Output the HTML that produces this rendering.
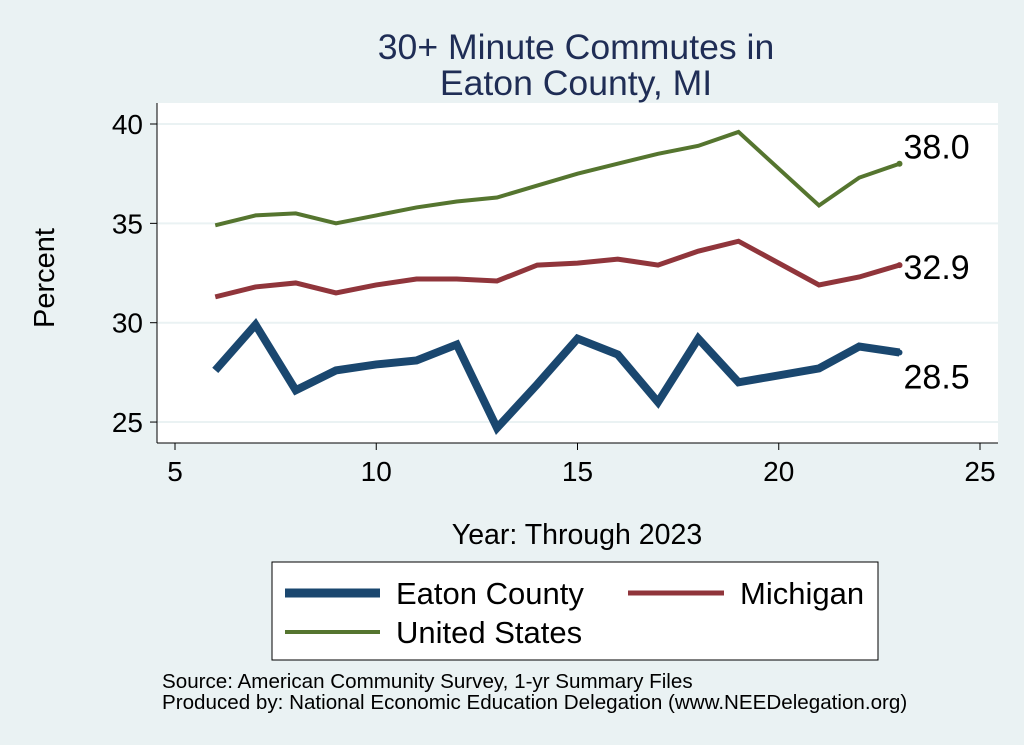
<!DOCTYPE html>
<html><head><meta charset="utf-8"><style>
body{margin:0;background:#eaf2f3;font-family:"Liberation Sans",sans-serif}
svg{display:block}
</style></head><body>
<svg width="1024" height="745">
<rect width="1024" height="745" fill="#eaf2f3"/>
<text x="576" y="59" text-anchor="middle" font-size="35.6" fill="#1f2d55">30+ Minute Commutes in</text>
<text x="576" y="95" text-anchor="middle" font-size="35.6" fill="#1f2d55">Eaton County, MI</text>
<rect x="157" y="103" width="841" height="340" fill="#fff"/>
<g id="grid"></g><g id="axes"></g><g id="series"></g>
<text transform="translate(54,278) rotate(-90)" text-anchor="middle" font-size="29" fill="#000">Percent</text>
<text x="577" y="544" text-anchor="middle" font-size="28.5" fill="#000">Year: Through 2023</text>
<g>
<rect x="272" y="562" width="606" height="98" fill="#fff" stroke="#000" stroke-width="1"/>
<line x1="285" y1="593" x2="380" y2="593" stroke="#1a476f" stroke-width="9"/>
<text x="396" y="604" font-size="31">Eaton County</text>
<line x1="628" y1="593" x2="724" y2="593" stroke="#90353b" stroke-width="5"/>
<text x="740" y="604" font-size="31">Michigan</text>
<line x1="285" y1="632" x2="380" y2="632" stroke="#55752f" stroke-width="4"/>
<text x="396" y="643" font-size="31">United States</text>
</g>
<text x="162" y="688" font-size="20.6">Source: American Community Survey, 1-yr Summary Files</text>
<text x="162" y="709" font-size="20.6">Produced by: National Economic Education Delegation (www.NEEDelegation.org)</text>
</svg>
<script>
const years=[6,7,8,9,10,11,12,13,14,15,16,17,18,19,21,22,23];
const eaton=[27.6,29.9,26.6,27.6,27.9,28.1,28.9,24.7,26.9,29.2,28.4,26.0,29.2,27.0,27.7,28.8,28.5];
const michigan=[31.3,31.8,32.0,31.5,31.9,32.2,32.2,32.1,32.9,33.0,33.2,32.9,33.6,34.1,31.9,32.3,32.9];
const us=[34.9,35.4,35.5,35.0,35.4,35.8,36.1,36.3,36.9,37.5,38.0,38.5,38.9,39.6,35.9,37.3,38.0];
const xTicks=[5,10,15,20,25];
const yTicks=[25,30,35,40];
const NS="http://www.w3.org/2000/svg";
const X=v=>175+(v-5)*40.25;
const Y=v=>124+(40-v)*19.87;
function mk(t,a,p){const e=document.createElementNS(NS,t);for(const k in a)e.setAttribute(k,a[k]);p.appendChild(e);return e;}
const grid=document.getElementById('grid'),axes=document.getElementById('axes'),ser=document.getElementById('series');
mk('line',{x1:157,y1:103,x2:157,y2:443,stroke:'#000','stroke-width':1},axes);
mk('line',{x1:157,y1:443,x2:998,y2:443,stroke:'#000','stroke-width':1},axes);
yTicks.forEach(v=>{
 const g=mk('line',{x1:157,y1:Y(v),x2:998,y2:Y(v),stroke:'#eaf2f3','stroke-width':2},grid);
 
 
 mk('line',{x1:150,y1:Y(v),x2:157,y2:Y(v),stroke:'#000'},axes);
 const t=mk('text',{x:143,y:Y(v)+10,'text-anchor':'end','font-size':28},axes);t.textContent=v;
 
 
});
xTicks.forEach(v=>{
 mk('line',{x1:X(v),y1:443,x2:X(v),y2:450,stroke:'#000'},axes);
 const t=mk('text',{x:X(v),y:481,'text-anchor':'middle','font-size':28},axes);t.textContent=v;
 
 
});
function line(d,c,w,name,lbl,dy){
 const pts=years.map((y,i)=>X(y)+','+Y(d[i])).join(' ');
 const p=mk('polyline',{points:pts,fill:'none',stroke:c,'stroke-width':w,'stroke-linejoin':'miter'},ser);
 
 
 const n=d.length-1;
 mk('circle',{cx:X(years[n]),cy:Y(d[n]),r:3,fill:c},ser);
 const t=mk('text',{x:X(years[n])+4,y:Y(d[n])+dy,'font-size':34},ser);t.textContent=d[n].toFixed(1);
 
 
}
line(us,'#55752f',4,'us-line','us-end-label',-5);
line(michigan,'#90353b',5,'michigan-line','michigan-end-label',14);
line(eaton,'#1a476f',8,'eaton-line','eaton-end-label',36);
</script>
</body></html>
